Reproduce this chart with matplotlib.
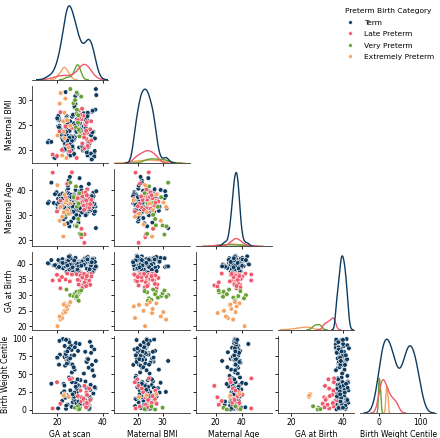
import numpy as np
import pandas as pd
import matplotlib
matplotlib.use("Agg")
import matplotlib.pyplot as plt
import seaborn as sns

nan = np.nan

categories = ["Term", "Late Preterm", "Very Preterm", "Extremely Preterm"]
palette = ["#0f3b5f", "#ee5a6c", "#67a033", "#f4a261"]
variables = ["GA at scan", "Maternal BMI", "Maternal Age", "GA at Birth", "Birth Weight Centile"]

# ---------------- Term ----------------
ga_scan_term = [
    22.1, 24.5, 33.2, 20.8, 26.3, 35.1, 23.7, 29.6, 31.6, 25.2, 27.8, 19.6, 34.4, 24.0, 28.7, 36.2, 26.9, 23.3, 30.5, 25.7,
    21.9, 33.8, 24.8, 27.1, 29.1, 35.7, 20.3, 26.0, 32.4, 23.9, 25.4, 28.6, 34.9, 27.9, 24.3, 33.0, 26.6, 22.7, 36.8, 25.0,
    23.5, 31.2, 27.4, 20.6, 24.9, 34.1, 28.3, 26.4, 35.4, 23.1, 29.3, 25.6, 30.1, 33.5, 24.6, 27.9, 22.8, 32.7, 26.2, 23.8,
    16.2, 25.9, 34.6, 22.4, 24.2, 30.9, 21.1, 27.3, 33.6, 23.4, 25.3, 36.5, 29.4, 26.7, 31.9, 24.7, 20.1, 35.0, 28.8, 25.8,
    28.2, 22.6, 33.3, 24.4, 26.1, 34.7, 29.7, 23.6, 32.1, 25.1, 27.6, 18.4, 35.9, 24.1, 27.3, 33.9, 26.5, 23.2, 30.2, 25.5,
    21.3, 34.3, 24.8, 27.0, 28.5, 36.0, 20.9, 26.8, 32.9, 23.7, 25.0, 29.0, 35.3, 30.4, 24.5, 33.1, 26.3, 22.1, 37.2, 24.9,
    23.4, 31.4, 27.7, 20.4, 25.2, 34.0, 29.2, 26.2, 35.6, 23.0, 29.8, 25.7, 27.9, 33.7, 24.2, 28.0, 22.5, 32.3, 26.0, 23.9,
    15.8, 25.6, 34.8, 22.2, 24.0, 31.0, 28.1, 27.2, 33.4, 23.3, 25.4, 36.3, 29.9, 26.6, 31.7, 24.6, 19.9, 34.5, 23.6, 25.9,
    28.4, 22.4, 33.0, 24.3, 26.4, 34.9, 28.6, 23.5, 32.5, 25.3, 27.5, 18.9, 35.5, 24.7, 29.3, 33.6, 26.9, 23.1, 30.6, 25.1,
    21.7, 34.2, 24.6, 27.4, 29.5, 36.6, 20.7, 26.1, 32.8, 23.8, 25.5, 28.9, 35.2, 30.0, 24.4, 33.3, 26.7, 22.3, 37.0, 17.3,
]
bmi_term = [
    22.4, 24.1, 19.8, 26.3, 21.5, 23.7, 25.2, 20.6, 27.4, 22.9, 24.6, 18.7, 23.2, 21.1, 25.8, 19.4, 26.9, 22.0, 24.3, 20.9,
    23.5, 21.8, 25.5, 19.1, 27.0, 22.6, 24.8, 20.2, 26.1, 23.0, 21.3, 25.0, 18.4, 24.0, 22.2, 26.6, 20.5, 23.9, 28.1, 21.7,
    24.5, 20.0, 22.8, 26.0, 19.6, 23.4, 25.6, 21.0, 27.7, 22.3, 24.2, 18.9, 25.3, 21.6, 23.1, 30.8, 20.4, 26.4, 22.7, 24.9,
    21.9, 25.1, 19.3, 23.6, 26.8, 20.7, 24.4, 22.1, 27.2, 21.2, 23.8, 19.9, 25.9, 22.5, 24.7, 20.3, 26.2, 23.3, 31.3, 21.4,
    24.0, 22.0, 19.0, 25.7, 21.7, 23.2, 26.5, 20.1, 24.6, 22.4, 28.5, 18.6, 23.7, 21.3, 25.4, 20.8, 26.7, 22.9, 24.1, 19.7,
    23.0, 21.5, 25.1, 19.5, 27.3, 22.2, 24.9, 20.4, 26.3, 23.6, 21.0, 25.6, 18.3, 24.4, 22.7, 26.0, 20.6, 23.8, 31.0, 21.9,
    24.7, 20.2, 22.6, 26.9, 19.2, 23.3, 25.3, 21.2, 27.9, 22.1, 24.3, 19.0, 25.0, 21.8, 23.1, 29.2, 20.0, 26.1, 22.8, 24.5,
    21.6, 25.8, 19.4, 23.5, 26.6, 20.9, 24.2, 22.3, 27.5, 21.4, 23.9, 18.8, 25.5, 22.6, 24.8, 20.5, 26.4, 23.4, 31.6, 21.1,
    23.7, 22.1, 19.6, 25.2, 21.9, 23.0, 26.2, 20.3, 24.5, 22.5, 28.8, 18.5, 23.6, 21.5, 25.9, 20.7, 27.1, 22.9, 24.0, 19.9,
    23.2, 21.4, 25.4, 19.3, 27.6, 22.4, 24.6, 20.1, 26.5, 23.7, 21.2, 25.7, 18.2, 24.2, 22.0, 26.8, 20.8, 23.5, 32.2, 21.7,
]
age_term = [
    34.2, 36.8, 31.5, 38.1, 33.0, 35.6, 37.4, 29.8, 34.9, 36.1, 32.4, 39.2, 35.1, 33.7, 37.9, 30.6, 36.4, 34.5, 41.3, 35.8,
    33.3, 37.0, 31.9, 35.3, 38.6, 34.0, 36.6, 27.5, 35.0, 33.8, 37.6, 32.1, 36.2, 34.7, 39.8, 31.2, 35.5, 37.2, 33.5, 43.9,
    36.0, 34.3, 38.3, 32.7, 35.9, 37.1, 30.2, 34.8, 36.5, 33.1, 39.5, 35.2, 31.7, 37.7, 34.1, 36.9, 28.4, 35.7, 38.0, 33.6,
    35.4, 32.9, 36.7, 34.6, 38.8, 31.1, 35.0, 37.3, 33.9, 36.3, 25.6, 34.4, 37.5, 32.5, 36.0, 40.6, 33.2, 35.8, 37.8, 30.9,
    34.0, 36.4, 32.2, 38.4, 35.3, 33.4, 37.0, 29.3, 35.6, 36.8, 31.8, 34.9, 39.0, 33.0, 36.1, 42.5, 34.6, 37.2, 32.8, 35.1,
    36.6, 33.7, 38.9, 31.4, 35.4, 37.6, 34.2, 36.2, 30.4, 35.9, 33.1, 38.2, 34.7, 36.9, 26.8, 35.2, 37.4, 33.5, 39.6, 34.3,
    35.7, 32.6, 36.3, 34.0, 38.5, 31.6, 35.8, 37.1, 33.3, 36.7, 44.8, 34.1, 37.7, 32.3, 35.5, 40.1, 33.9, 36.5, 38.1, 31.0,
    34.8, 36.0, 32.0, 38.7, 35.0, 33.6, 37.3, 28.9, 35.3, 36.4, 31.3, 34.5, 39.3, 33.2, 36.8, 41.8, 34.4, 37.0, 32.7, 35.6,
    36.2, 33.9, 38.0, 31.8, 35.1, 37.8, 34.3, 36.1, 30.0, 35.7, 33.4, 38.4, 34.9, 36.6, 27.1, 35.4, 37.5, 33.0, 39.9, 34.6,
    35.9, 32.4, 36.9, 34.1, 38.3, 31.5, 35.2, 37.2, 33.8, 36.4, 45.3, 34.2, 37.6, 32.8, 35.0, 40.4, 33.6, 36.7, 24.9, 43.0,
]
ga_birth_term = [
    39.4, 40.1, 38.6, 41.0, 39.9, 37.9, 40.6, 39.1, 41.4, 38.3, 40.3, 39.6, 37.4, 40.9, 39.0, 41.7, 38.8, 40.0, 39.3, 42.1,
    40.4, 38.1, 39.7, 41.2, 37.6, 40.7, 39.2, 38.9, 41.9, 40.2, 39.5, 38.4, 40.8, 37.2, 39.8, 41.3, 38.7, 40.5, 39.0, 42.4,
    39.6, 40.9, 38.2, 41.1, 39.3, 37.8, 40.3, 39.9, 41.6, 38.5, 40.0, 39.4, 37.5, 40.6, 39.1, 41.8, 38.9, 40.2, 39.7, 41.0,
    40.1, 38.0, 39.5, 41.4, 37.7, 40.8, 39.0, 38.6, 42.0, 40.4, 39.8, 38.3, 40.7, 37.3, 39.6, 41.2, 38.8, 40.5, 39.2, 41.5,
    39.7, 40.0, 38.4, 41.3, 39.4, 37.9, 40.2, 39.1, 41.7, 38.7, 40.6, 39.5, 37.6, 40.9, 39.9, 41.1, 38.5, 40.3, 39.3, 42.6,
    40.5, 38.2, 39.6, 41.0, 37.8, 40.4, 39.2, 38.9, 41.8, 40.1, 39.7, 38.6, 40.8, 37.1, 39.4, 41.6, 38.1, 40.0, 39.0, 41.3,
    39.8, 40.7, 38.3, 41.2, 39.5, 37.5, 40.3, 39.9, 41.4, 38.8, 40.1, 39.3, 37.7, 40.6, 39.0, 41.9, 38.6, 40.4, 39.6, 40.9,
    40.2, 38.0, 39.4, 41.5, 37.4, 40.8, 39.1, 38.7, 42.2, 40.5, 39.8, 38.4, 40.0, 37.9, 39.7, 41.1, 38.9, 40.6, 39.2, 41.7,
    39.5, 40.3, 38.5, 41.0, 39.9, 37.6, 40.1, 39.3, 41.3, 38.2, 40.7, 39.6, 37.3, 40.9, 39.1, 41.6, 38.8, 40.2, 39.4, 42.3,
    40.4, 38.3, 39.7, 41.1, 37.7, 40.6, 39.0, 38.6, 41.8, 40.0, 39.8, 38.1, 40.5, 37.2, 39.5, 41.4, 38.9, 40.3, 39.2, 41.2,
]
bwc_term = [
    12.5, nan, 71.3, nan, 4.2, 88.6, nan, 33.1, nan, 65.0, 21.4, nan, 95.2, nan, 8.7, 47.5, nan, 76.8, nan, 27.3,
    nan, 58.9, nan, 15.6, 82.4, nan, 2.1, nan, 39.7, 70.2, nan, 24.8, nan, 91.0, nan, 11.3, 63.5, nan, 30.4, nan,
    79.1, nan, 18.2, nan, 97.6, 6.5, nan, 52.3, nan, 73.9, 28.6, nan, 14.0, nan, 85.7, nan, 36.2, 67.4, nan, 1.5,
    nan, 44.1, nan, 99.0, 20.5, nan, 77.2, nan, 9.9, 61.8, nan, 31.7, nan, 86.9, 16.4, nan, 72.6, nan, 25.1, nan,
    93.4, nan, 5.3, 68.7, nan, 35.0, nan, 80.5, 13.8, nan, 56.2, nan, 22.9, 74.4, nan, 3.6, nan, 89.3, 41.6, nan,
    nan, 17.7, 66.1, nan, 29.5, nan, 96.4, 10.6, nan, 78.0, nan, 34.6, 62.9, nan, 7.4, nan, 83.8, 23.5, nan, 69.9,
    19.2, nan, 87.5, nan, 45.3, 0.8, nan, 75.6, nan, 26.0, 92.1, nan, 12.0, nan, 64.7, 37.9, nan, 81.2, nan, 6.0,
    nan, 71.9, 14.9, nan, 98.3, nan, 32.2, 59.6, nan, 20.1, nan, 84.5, 3.0, nan, 50.8, nan, 73.1, 28.0, nan, 90.4,
    9.1, nan, 67.0, nan, 38.8, 79.7, nan, 16.9, nan, 94.6, 24.2, nan, 55.4, nan, 11.7, 70.8, nan, 33.9, nan, 86.1,
    nan, 2.7, nan, 76.3, 18.8, nan, 63.2, nan, 30.9, 97.9, nan, 42.7, nan, 8.2, 81.7, nan, 21.7, nan, 68.4, 36.5,
]

# ---------------- Late Preterm ----------------
ga_scan_late = [17.9, 20.9, 21.3, 24.3, 26.4, 28.5, 30.6, 32.8, 34.9, 31.9, 30.6, 29.4, 33.6, 34.0, 29.8, 25.5, 31.2, 32.2,
                30.9, 33.1, 33.4, 23.6, 31.5, 35.0, 19.8, 32.5, 32.0, 30.2, 31.0, 34.5, 22.0, 29.0, 31.8, 33.0, 32.7]
bmi_late = [19.2, 23.8, 27.6, 21.0, 24.5, 18.5, 26.2, 22.3, 25.8, 20.4, 23.1, 27.9, 24.0, 21.7, 26.6, 19.8, 22.9, 25.3,
            28.3, 23.5, 20.9, 24.8, 26.9, 22.0, 18.9, 25.1, 23.3, 27.1, 21.4, 24.2, 20.1, 26.0, 22.6, 25.6, 23.9]
age_late = [47.0, 33.2, 35.8, 42.6, 47.1, 36.5, 24.6, 37.8, 34.1, 19.0, 21.3, 38.4, 36.9, 33.0, 35.2, 30.8, 38.9, 32.6,
            35.5, 40.3, 34.7, 37.2, 33.9, 36.1, 31.5, 39.1, 22.4, 35.0, 37.5, 34.4, 33.6, 36.8, 32.1, 38.0, 35.9]
ga_birth_late = [34.7, 34.8, 32.2, 36.9, 36.6, 36.7, 36.9, 36.6, 36.8, 33.1, 32.8, 33.4, 33.8, 34.7, 34.7, 34.4, 32.5, 36.2,
                 35.5, 35.9, 36.4, 35.0, 33.6, 36.0, 36.5, 35.2, 34.1, 36.3, 35.7, 33.3, 35.8, 34.9, 36.8, 36.1, 32.9]
bwc_late = [2.0, nan, 8.5, nan, 44.0, nan, 12.3, 24.5, nan, 33.5, 17.6, nan, 6.1, 29.8, nan, 42.7, nan, 10.2,
            nan, 21.0, 4.8, nan, 15.4, nan, 38.6, nan, 7.2, 27.0, nan, 13.9, nan, 19.3, nan, 9.6, 3.5]

# ---------------- Very Preterm ----------------
ga_scan_very = [25.7, 27.1, 27.8, 28.5, 29.2, 29.9, 28.2, 29.1, 28.6, 28.5, 29.7, 24.0, 30.5, 29.4]
bmi_very = [32.2, 29.4, 30.0, 27.3, 27.0, 23.8, 24.6, 25.5, 28.1, 31.5, 22.8, 26.2, 30.7, 24.1]
age_very = [43.0, 37.2, 25.9, 26.0, 28.5, 22.6, 41.5, 35.0, 33.4, 25.6, 38.8, 30.2, 22.3, 34.6]
ga_birth_very = [30.0, 29.7, 30.6, 31.1, 30.3, 30.9, 29.0, 28.5, 29.2, 29.5, 31.3, 31.8, 31.5, 28.2]
bwc_very = [nan, nan, 3.0, nan, 0.5, nan, nan, 5.0, nan, nan, 1.0, nan, nan, nan]

# ---------------- Extremely Preterm ----------------
ga_scan_ext = [20.0, 21.4, 22.1, 22.6, 23.1, 23.5, 24.3, 23.1, 25.0, 25.7, 24.0, 21.0, 22.8]
bmi_ext = [23.0, 31.4, 19.0, 25.8, 22.4, 30.3, 26.0, 27.5, 20.6, 24.9, 18.5, 29.3, 23.7]
age_ext = [42.0, 33.3, 29.4, 21.5, 26.3, 35.1, 32.0, 38.2, 30.6, 34.7, 36.0, 27.8, 31.2]
ga_birth_ext = [20.1, 22.2, 22.7, 24.3, 25.0, 24.6, 25.6, 27.4, 26.9, 27.8, 26.4, 23.2, 27.0]
bwc_ext = [nan, nan, nan, nan, nan, nan, nan, 22.0, 18.0, nan, nan, nan, 20.0]

# axis ranges / ticks per variable
axis_limits = {"GA at scan": (8.6, 42.4), "Maternal BMI": (10.5, 41.0), "Maternal Age": (5.0, 63.0),
               "GA at Birth": (15.0, 44.4), "Birth Weight Centile": (-45.0, 140.0)}
x_ticks = {"GA at scan": [20, 40], "Maternal BMI": [20, 30], "Maternal Age": [20, 40],
           "GA at Birth": [20, 40], "Birth Weight Centile": [0, 100]}
y_ticks = {"Maternal BMI": [20, 25, 30], "Maternal Age": [20, 30, 40],
           "GA at Birth": [20, 25, 30, 35, 40], "Birth Weight Centile": [0, 25, 50, 75, 100]}

groups = [
    ("Term", ga_scan_term, bmi_term, age_term, ga_birth_term, bwc_term),
    ("Late Preterm", ga_scan_late, bmi_late, age_late, ga_birth_late, bwc_late),
    ("Very Preterm", ga_scan_very, bmi_very, age_very, ga_birth_very, bwc_very),
    ("Extremely Preterm", ga_scan_ext, bmi_ext, age_ext, ga_birth_ext, bwc_ext),
]
frames = []
for name, a, b, c, d, e in groups:
    frames.append(pd.DataFrame({
        "GA at scan": a, "Maternal BMI": b, "Maternal Age": c,
        "GA at Birth": d, "Birth Weight Centile": e,
        "Preterm Birth Category": [name] * len(a),
    }))
df = pd.concat(frames, ignore_index=True)

fs = 5.5
plt.rcParams["font.family"] = ["DejaVu Sans"]
plt.rcParams["font.size"] = fs
plt.rcParams["axes.labelsize"] = fs
plt.rcParams["xtick.labelsize"] = fs
plt.rcParams["ytick.labelsize"] = fs
plt.rcParams["axes.linewidth"] = 0.6
plt.rcParams["axes.edgecolor"] = "#333333"
plt.rcParams["xtick.major.width"] = 0.6
plt.rcParams["ytick.major.width"] = 0.6
plt.rcParams["xtick.major.size"] = 2.0
plt.rcParams["ytick.major.size"] = 2.0
plt.rcParams["xtick.major.pad"] = 1.5
plt.rcParams["ytick.major.pad"] = 1.5
plt.rcParams["axes.labelpad"] = 2.0

g = sns.pairplot(
    df, vars=variables, hue="Preterm Birth Category", hue_order=categories,
    palette=palette, corner=True, height=1.0,
    plot_kws=dict(s=11, linewidth=0.4, edgecolor="white"),
    diag_kws=dict(linewidth=1.0, fill=False),
)
g.figure.set_size_inches(4.4, 4.38)
g.figure.subplots_adjust(left=0.072, right=0.992, bottom=0.057, top=0.995,
                         wspace=0.075, hspace=0.075)

n = len(variables)
for i in range(n):
    for j in range(i + 1):
        ax = g.axes[i, j]
        if ax is None:
            continue
        ax.set_xlim(*axis_limits[variables[j]])
        ax.set_xticks(x_ticks[variables[j]])
        if i != j:
            ax.set_yticks(y_ticks[variables[i]])

sns.move_legend(g, "upper right", bbox_to_anchor=(1.003, 0.997), frameon=False,
                fontsize=5.4, title_fontsize=5.4, markerscale=0.8,
                handletextpad=0.9, labelspacing=0.7)

g.figure.savefig("out.png", dpi=100)
